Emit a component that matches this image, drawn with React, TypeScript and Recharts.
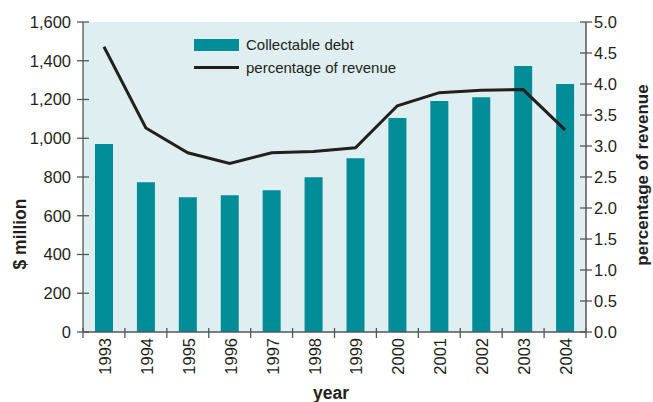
import React from "react";
import {
  ComposedChart,
  Bar,
  Line,
  XAxis,
  YAxis,
  CartesianGrid,
  Legend,
} from "recharts";

const years = ["1993", "1994", "1995", "1996", "1997", "1998", "1999", "2000", "2001", "2002", "2003", "2004"];
const collectableDebt = [970, 773, 696, 706, 732, 799, 897, 1104, 1192, 1212, 1373, 1280];
const percentageOfRevenue = [4.6, 3.29, 2.89, 2.72, 2.89, 2.91, 2.97, 3.65, 3.86, 3.9, 3.91, 3.26];
const leftTicks = [0, 200, 400, 600, 800, 1000, 1200, 1400, 1600];
const rightTicks = [0, 0.5, 1, 1.5, 2, 2.5, 3, 3.5, 4, 4.5, 5];

const data = years.map((year, i) => ({
  year,
  debt: collectableDebt[i],
  pct: percentageOfRevenue[i],
}));

const W = 653;
const H = 402;
const PLOT_L = 83;
const PLOT_R = 586;
const PLOT_T = 22;
const PLOT_B = 332;
const BAND = (PLOT_R - PLOT_L) / years.length;

const FONT = "'Liberation Sans', Arial, Helvetica, sans-serif";
const TEXT = "#231f20";
const AXIS = "#555659";
const TEAL = "#008d97";
const BG = "#deeef1";

const XTick = (props: any) => {
  const { x, payload, index } = props;
  const left = x - BAND / 2;
  return (
    <g>
      <line x1={left} x2={left} y1={PLOT_B - 4} y2={PLOT_B + 6} stroke={AXIS} strokeWidth={1.3} />
      {index === years.length - 1 && (
        <line x1={x + BAND / 2} x2={x + BAND / 2} y1={PLOT_B - 4} y2={PLOT_B + 6} stroke={AXIS} strokeWidth={1.3} />
      )}
      <text
        transform={`translate(${x + 1},${PLOT_B + 6}) rotate(-90)`}
        textAnchor="end"
        dominantBaseline="central"
        fontSize={16.5}
        fontFamily={FONT}
        fill={TEXT}
      >
        {payload.value}
      </text>
    </g>
  );
};

const LeftTick = (props: any) => {
  const { y, payload } = props;
  return (
    <g>
      <line x1={PLOT_L - 6} x2={PLOT_L + 6} y1={y} y2={y} stroke={AXIS} strokeWidth={1.3} />
      <text x={PLOT_L - 12} y={y} dy="0.36em" textAnchor="end" fontSize={16.5} fontFamily={FONT} fill={TEXT}>
        {payload.value.toLocaleString("en-US")}
      </text>
    </g>
  );
};

const RightTick = (props: any) => {
  const { y, payload } = props;
  return (
    <g>
      <line x1={PLOT_R - 6} x2={PLOT_R + 6} y1={y} y2={y} stroke={AXIS} strokeWidth={1.3} />
      <text x={PLOT_R + 8} y={y} dy="0.36em" textAnchor="start" fontSize={16.5} fontFamily={FONT} fill={TEXT}>
        {Number(payload.value).toFixed(1)}
      </text>
    </g>
  );
};

const LegendContent = () => (
  <div style={{ fontFamily: FONT, fontSize: 15, color: TEXT, lineHeight: "23px" }}>
    <div style={{ display: "flex", alignItems: "center", height: 23 }}>
      <span style={{ display: "inline-block", width: 45, height: 12, background: TEAL, marginRight: 7 }} />
      <span>Collectable debt</span>
    </div>
    <div style={{ display: "flex", alignItems: "center", height: 23 }}>
      <span style={{ display: "inline-block", width: 45, height: 3, background: TEXT, marginRight: 7 }} />
      <span>percentage of revenue</span>
    </div>
  </div>
);

export default function App() {
  return (
    <div style={{ position: "absolute", left: 0, top: 0, width: W, height: H, background: "#ffffff" }}>
      <ComposedChart
        width={W}
        height={H}
        data={data}
        margin={{ top: PLOT_T, right: W - PLOT_R - 60, bottom: 0, left: PLOT_L - 75 }}
      >
        <CartesianGrid horizontal={false} vertical={false} fill={BG} stroke="none" />
        <XAxis
          dataKey="year"
          height={H - PLOT_B}
          interval={0}
          tickLine={false}
          axisLine={{ stroke: AXIS, strokeWidth: 1.3 }}
          tick={<XTick />}
          label={(p: any) => (
            <text x={331} y={399} textAnchor="middle" fontSize={17.5} fontWeight="bold" fontFamily={FONT} fill={TEXT}>
              year
            </text>
          )}
        />
        <YAxis
          yAxisId="left"
          width={75}
          domain={[0, 1600]}
          ticks={leftTicks}
          tickLine={false}
          axisLine={{ stroke: AXIS, strokeWidth: 1.3 }}
          tick={<LeftTick />}
          label={(p: any) => (
            <text
              transform="translate(20,234) rotate(-90)"
              textAnchor="middle"
              dominantBaseline="central"
              fontSize={17.5}
              fontWeight="bold"
              fontFamily={FONT}
              fill={TEXT}
            >
              $ million
            </text>
          )}
        />
        <YAxis
          yAxisId="right"
          orientation="right"
          width={60}
          domain={[0, 5]}
          ticks={rightTicks}
          tickLine={false}
          axisLine={{ stroke: "#7d7e81", strokeWidth: 2 }}
          tick={<RightTick />}
          label={(p: any) => (
            <text
              transform="translate(642,175) rotate(-90)"
              textAnchor="middle"
              dominantBaseline="central"
              fontSize={17}
              fontWeight="bold"
              fontFamily={FONT}
              fill={TEXT}
            >
              percentage of revenue
            </text>
          )}
        />
        <Legend
          layout="horizontal"
          verticalAlign="middle"
          align="center"
          content={<LegendContent />}
          wrapperStyle={{ position: "absolute", left: 194, top: 33, width: 240, height: 46 }}
        />
        <Bar yAxisId="left" dataKey="debt" fill={TEAL} barSize={18} isAnimationActive={false} />
        <Line
          yAxisId="right"
          dataKey="pct"
          type="linear"
          stroke={TEXT}
          strokeWidth={3}
          dot={false}
          activeDot={false}
          isAnimationActive={false}
        />
      </ComposedChart>
    </div>
  );
}
